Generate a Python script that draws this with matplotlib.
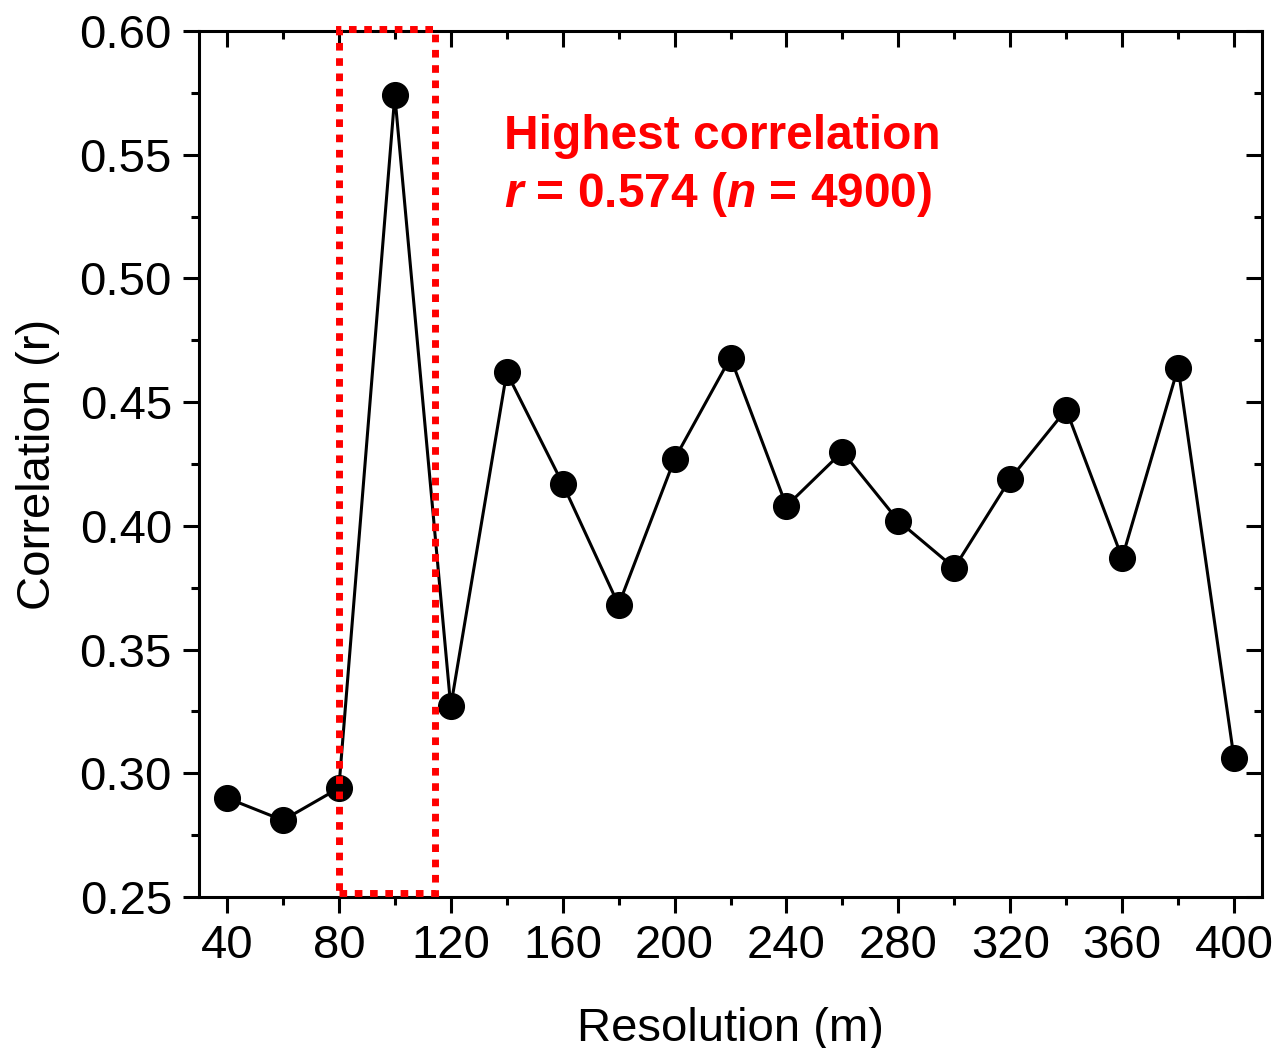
import matplotlib
matplotlib.use("Agg")
import matplotlib.pyplot as plt
from matplotlib.patches import Rectangle
from matplotlib.ticker import MultipleLocator, FormatStrFormatter

plt.rcParams["font.family"] = ["Liberation Sans", "DejaVu Sans"]
plt.rcParams["mathtext.fontset"] = "custom"
plt.rcParams["mathtext.rm"] = "Liberation Sans:bold"
plt.rcParams["mathtext.it"] = "Liberation Sans:bold:italic"
plt.rcParams["mathtext.bf"] = "Liberation Sans:bold"

resolution = [40, 60, 80, 100, 120, 140, 160, 180, 200, 220,
              240, 260, 280, 300, 320, 340, 360, 380, 400]
correlation = [0.290, 0.281, 0.294, 0.574, 0.327, 0.462, 0.417, 0.368, 0.427, 0.468,
               0.408, 0.430, 0.402, 0.383, 0.419, 0.447, 0.387, 0.464, 0.306]
highlight_x = (80, 114.5)
highlight_y = (0.2515, 0.6008)

fig = plt.figure(figsize=(12.78, 10.48), dpi=100)
ax = fig.add_axes([0.1557, 0.1441, 0.8318, 0.8263])

ax.plot(resolution, correlation, color="black", linewidth=2.2,
        marker="o", markersize=18.5, markerfacecolor="black", markeredgecolor="black")

rect = Rectangle((highlight_x[0], highlight_y[0]), highlight_x[1] - highlight_x[0],
                 highlight_y[1] - highlight_y[0], fill=False, edgecolor="#ff0000",
                 linewidth=5, linestyle=(0, (1.1, 1.1)), clip_on=False, zorder=5)
ax.add_patch(rect)

ax.text(0.2865, 0.8635, "Highest correlation", transform=ax.transAxes,
        color="#ff0000", fontsize=34.5, fontweight="bold", va="baseline")
ax.text(0.2865, 0.797, r"$\mathit{r}$ = 0.574 ($\mathit{n}$ = 4900)", transform=ax.transAxes,
        color="#ff0000", fontsize=34.5, fontweight="bold", va="baseline")

ax.set_xlim(30, 410)
ax.set_ylim(0.25, 0.60)
ax.xaxis.set_major_locator(MultipleLocator(40))
ax.xaxis.set_minor_locator(MultipleLocator(20))
ax.yaxis.set_major_locator(MultipleLocator(0.05))
ax.yaxis.set_minor_locator(MultipleLocator(0.025))
ax.yaxis.set_major_formatter(FormatStrFormatter("%.2f"))

for side in ax.spines.values():
    side.set_linewidth(2.2)

ax.tick_params(axis="both", which="major", direction="out", length=11.5, width=2.2,
               labelsize=34, pad=8)
ax.tick_params(axis="both", which="minor", direction="out", length=5.5, width=2.2)
ax.tick_params(axis="x", which="both", top=True)
ax.tick_params(axis="y", which="both", right=True)

# mirrored ticks on top/right point inward
for tick in ax.xaxis.get_major_ticks() + ax.xaxis.get_minor_ticks():
    tick.tick2line.set_marker(matplotlib.lines.TICKDOWN)
for tick in ax.yaxis.get_major_ticks() + ax.yaxis.get_minor_ticks():
    tick.tick2line.set_marker(matplotlib.lines.TICKLEFT)

ax.set_xlabel("Resolution (m)", fontsize=34, labelpad=28)
ax.set_ylabel("Correlation (r)", fontsize=34, labelpad=14)

fig.savefig("out.png", dpi=100)
